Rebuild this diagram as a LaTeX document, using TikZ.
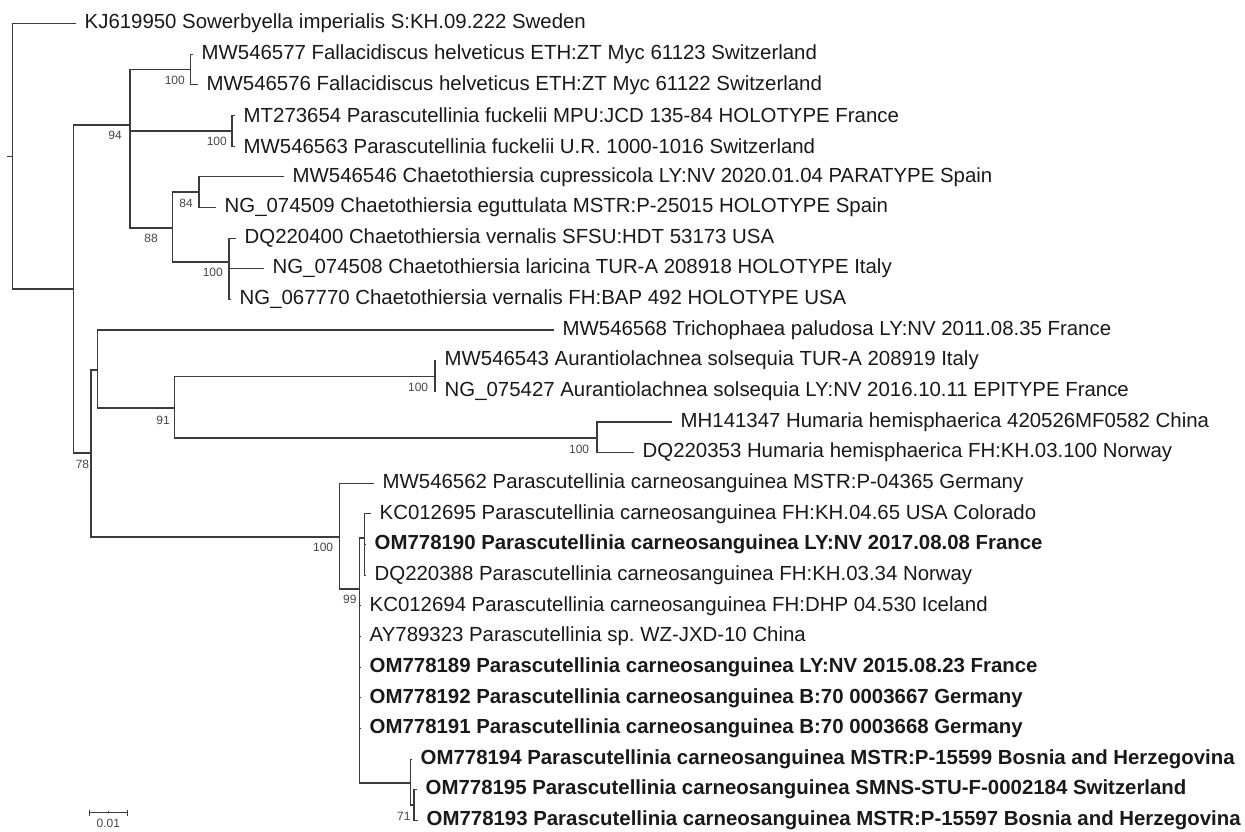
\documentclass[tikz,border=0pt]{standalone}
\usepackage{fontspec}
\setmainfont{Liberation Sans}
\usepackage{tikz}
\usetikzlibrary{positioning}

\definecolor{treeline}{RGB}{60,60,60}
\definecolor{labtext}{RGB}{25,25,25}
\definecolor{bstext}{RGB}{70,70,70}

\begin{document}
\begin{tikzpicture}[x=1pt,y=-1pt,
    br/.style={draw=treeline,line width=1.1pt},
    leaf/.style={anchor=west,inner xsep=8.5pt,inner ysep=0pt,text=labtext,
      font=\fontsize{20.4}{22}\selectfont},
    bs/.style={anchor=east,inner sep=0pt,text=bstext,
      font=\fontsize{12}{13}\selectfont}]
  \useasboundingbox (0,0) rectangle (1245,832);
  % inner nodes of the tree
  \coordinate (stub) at (7,156.5);
  \coordinate (root) at (12.5,156.5);
  \coordinate (nA) at (73.7,289);
  \coordinate (n94) at (130,125);
  \coordinate (nFal) at (190.7,69.5);
  \coordinate (nFuc) at (232,131);
  \coordinate (n88) at (172.7,228);
  \coordinate (n84) at (199,192);
  \coordinate (nVer) at (229,262);
  \coordinate (nB) at (91,453);
  \coordinate (nC) at (97.3,370);
  \coordinate (nD) at (174.3,408);
  \coordinate (nAur) at (435,376.5);
  \coordinate (nHum) at (597,438);
  \coordinate (nG) at (339.3,537);
  \coordinate (nH) at (359.3,589);
  \coordinate (nI) at (364.3,538);
  \coordinate (nJ) at (410.5,783);
  \coordinate (nK) at (414,805);
  \draw[br] (stub) -- (root);
  \draw[br] (root) |- (nA);
  \draw[br] (nA) |- (n94); \draw[br] (nA) |- (nB);
  \draw[br] (n94) |- (nFal); \draw[br] (n94) |- (nFuc); \draw[br] (n94) |- (n88);
  \draw[br] (n88) |- (n84); \draw[br] (n88) |- (nVer);
  \draw[br] (nB) |- (nC); \draw[br] (nB) |- (nG);
  \draw[br] (nC) |- (nD);
  \draw[br] (nD) |- (nAur); \draw[br] (nD) |- (nHum);
  \draw[br] (nG) |- (nH);
  \draw[br] (nH) |- (nI); \draw[br] (nH) |- (nJ);
  \draw[br] (nJ) |- (nK);
  % leaves: row / parent / branch end / label
  \foreach \i/\up/\xe/\txt in {
      0/root/76/{KJ619950 Sowerbyella imperialis S:KH.09.222 Sweden},
      1/nFal/193/{MW546577 Fallacidiscus helveticus ETH:ZT Myc 61123 Switzerland},
      2/nFal/198/{MW546576 Fallacidiscus helveticus ETH:ZT Myc 61122 Switzerland},
      3/nFuc/235/{MT273654 Parascutellinia fuckelii MPU:JCD 135-84 HOLOTYPE France},
      4/nFuc/235/{MW546563 Parascutellinia fuckelii U.R.\ 1000-1016 Switzerland},
      5/n84/284/{MW546546 Chaetothiersia cupressicola LY:NV 2020.01.04 PARATYPE Spain},
      6/n84/216/{NG\_074509 Chaetothiersia eguttulata MSTR:P-25015 HOLOTYPE Spain},
      7/nVer/236/{DQ220400 Chaetothiersia vernalis SFSU:HDT 53173 USA},
      8/nVer/264/{NG\_074508 Chaetothiersia laricina TUR-A 208918 HOLOTYPE Italy},
      9/nVer/231/{NG\_067770 Chaetothiersia vernalis FH:BAP 492 HOLOTYPE USA},
      10/nC/554/{MW546568 Trichophaea paludosa LY:NV 2011.08.35 France},
      11/nAur/436/{MW546543 Aurantiolachnea solsequia TUR-A 208919 Italy},
      12/nAur/436/{NG\_075427 Aurantiolachnea solsequia LY:NV 2016.10.11 EPITYPE France},
      13/nHum/672/{MH141347 Humaria hemisphaerica 420526MF0582 China},
      14/nHum/634/{DQ220353 Humaria hemisphaerica FH:KH.03.100 Norway},
      15/nG/374/{MW546562 Parascutellinia carneosanguinea MSTR:P-04365 Germany},
      16/nI/371/{KC012695 Parascutellinia carneosanguinea FH:KH.04.65 USA Colorado},
      17/nI/366/{\bfseries OM778190 Parascutellinia carneosanguinea LY:NV 2017.08.08 France},
      18/nI/366/{DQ220388 Parascutellinia carneosanguinea FH:KH.03.34 Norway},
      19/nH/361/{KC012694 Parascutellinia carneosanguinea FH:DHP 04.530 Iceland},
      20/nH/361/{AY789323 Parascutellinia sp.\ WZ-JXD-10 China},
      21/nH/361/{\bfseries OM778189 Parascutellinia carneosanguinea LY:NV 2015.08.23 France},
      22/nH/361/{\bfseries OM778192 Parascutellinia carneosanguinea B:70 0003667 Germany},
      23/nH/361/{\bfseries OM778191 Parascutellinia carneosanguinea B:70 0003668 Germany},
      24/nJ/412/{\bfseries OM778194 Parascutellinia carneosanguinea MSTR:P-15599 Bosnia and Herzegovina},
      25/nK/417/{\bfseries OM778195 Parascutellinia carneosanguinea SMNS-STU-F-0002184 Switzerland},
      26/nK/418/{\bfseries OM778193 Parascutellinia carneosanguinea MSTR:P-15597 Bosnia and Herzegovina}}
  {
    \node[leaf] (r\i) at (\xe,{23.5+30.65*\i}) {\txt};
    \draw[br] (\up) |- (r\i.west);
  }
  % bootstrap values
  \node[bs] (bFal) at (185,80.7) {100};
  \node[bs] (b94) at (122,135) {94};
  \node[bs] (bFuc) at (227,141.7) {100};
  \node[bs] (b84) at (193,203.3) {84};
  \node[bs] (b88) at (158,238.3) {88};
  \node[bs] (bVer) at (223,272.7) {100};
  \node[bs] (b78) at (89.3,464) {78};
  \node[bs] (b91) at (170,420) {91};
  \node[bs] (bAur) at (428.3,387.3) {100};
  \node[bs] (bHum) at (589.3,449) {100};
  \node[bs] (bG) at (333.3,547.3) {100};
  \node[bs] (b99) at (356.7,599) {99};
  \node[bs] (b71) at (410.7,816) {71};
  % scale bar
  \coordinate (sbl) at (89.3,812.7);
  \coordinate (sbm) at (108.3,812.7);
  \coordinate (sbr) at (127.3,812.7);
  \draw[draw=treeline,line width=1pt] (sbl) -- (sbr);
  \draw[draw=treeline,line width=1pt] ([yshift=-3pt]sbl) -- ([yshift=3pt]sbl);
  \draw[draw=treeline,line width=1pt] ([yshift=-3pt]sbr) -- ([yshift=3pt]sbr);
  \draw[draw=treeline,line width=0.8pt] (sbm) -- ([yshift=2pt]sbm);
  \node[bs,anchor=center] (sblab) at (108.3,823.5) {0.01};
\end{tikzpicture}
\end{document}
